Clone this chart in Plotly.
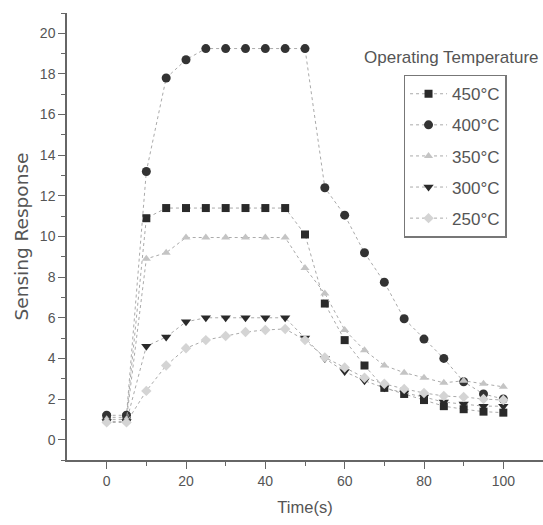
import plotly.graph_objects as go

time_s = [0, 5, 10, 15, 20, 25, 30, 35, 40, 45, 50, 55, 60, 65, 70, 75, 80, 85, 90, 95, 100]

resp_450 = [1.1, 1.1, 10.9, 11.4, 11.4, 11.4, 11.4, 11.4, 11.4, 11.4, 10.1, 6.7, 4.9, 3.65, 2.55, 2.25, 1.95, 1.65, 1.5, 1.38, 1.33]
resp_400 = [1.2, 1.2, 13.2, 17.8, 18.7, 19.25, 19.25, 19.25, 19.25, 19.25, 19.25, 12.4, 11.05, 9.2, 7.75, 5.95, 4.95, 4.0, 2.85, 2.25, 2.0]
resp_350 = [1.0, 1.0, 8.9, 9.2, 9.95, 9.95, 9.95, 9.95, 9.95, 9.95, 8.45, 7.2, 5.4, 4.4, 3.65, 3.3, 3.05, 2.8, 2.9, 2.75, 2.6]
resp_300 = [0.9, 0.9, 4.6, 5.05, 5.8, 6.0, 6.0, 6.0, 6.0, 6.0, 5.0, 4.0, 3.35, 2.9, 2.55, 2.3, 2.1, 1.85, 1.75, 1.65, 1.65]
resp_250 = [0.85, 0.85, 2.4, 3.65, 4.5, 4.9, 5.1, 5.3, 5.4, 5.45, 4.9, 4.05, 3.55, 3.05, 2.75, 2.5, 2.3, 2.15, 2.1, 2.0, 1.95]

labels = ["450°C", "400°C", "350°C", "300°C", "250°C"]
series = [resp_450, resp_400, resp_350, resp_300, resp_250]
symbols = ["square", "circle", "triangle-up", "triangle-down", "diamond"]
colors = ["#2a2a2a", "#333333", "#c4c4c4", "#2a2a2a", "#d4d4d4"]
sizes = [8, 9, 8, 9, 8]

FONT = "Liberation Sans, Arial, sans-serif"
TXT = "#555555"

fig = go.Figure()
for lab, ys, sym, col, sz in zip(labels, series, symbols, colors, sizes):
    fig.add_trace(go.Scatter(
        x=time_s, y=ys, name=lab, mode="lines+markers", legendgroup=lab,
        line=dict(color="#aaaaaa", width=1, dash="dot"),
        marker=dict(symbol=sym, color=col, size=sz, line=dict(width=0)),
    ))

fig.update_layout(
    width=543, height=525,
    margin=dict(l=67, r=0, t=13, b=65),
    plot_bgcolor="white", paper_bgcolor="white",
    font=dict(family=FONT, color=TXT, size=13),
    legend=dict(
        x=0.707, y=0.862, xanchor="left", yanchor="top",
        bordercolor="#777777", borderwidth=1.5, bgcolor="white",
        font=dict(family=FONT, size=17, color=TXT),
        tracegroupgap=6, itemwidth=37,
    ),
    annotations=[dict(
        text="Operating Temperature", x=0.995, y=0.875, xref="paper", yref="paper",
        xanchor="right", yanchor="bottom", showarrow=False,
        font=dict(family=FONT, size=17, color=TXT),
    )],
)

fig.update_xaxes(
    range=[-10, 110], tickmode="array", tickvals=[0, 20, 40, 60, 80, 100],
    ticks="outside", ticklen=7, tickcolor="#666666", tickwidth=1,
    minor=dict(tickvals=[10, 30, 50, 70, 90, 110], ticks="outside", ticklen=4, tickcolor="#666666"),
    showline=True, linecolor="#666666", linewidth=1.5, showgrid=False, zeroline=False,
    title=dict(text="Time(s)", font=dict(family=FONT, size=16.5, color=TXT), standoff=14),
    tickfont=dict(family=FONT, size=14, color=TXT),
)
fig.update_yaxes(
    range=[-1, 21], tickmode="array", tickvals=list(range(0, 21, 2)),
    ticks="outside", ticklen=7, tickcolor="#666666", tickwidth=1,
    minor=dict(tickvals=list(range(-1, 22, 2)), ticks="outside", ticklen=4, tickcolor="#666666"),
    showline=True, linecolor="#666666", linewidth=1.5, showgrid=False, zeroline=False,
    title=dict(text="Sensing Response", font=dict(family="DejaVu Sans, sans-serif", size=18.5, color=TXT), standoff=6),
    tickfont=dict(family=FONT, size=14, color=TXT),
    automargin=False,
)

fig.write_html("out.html", config={"displayModeBar": False},
               post_script="document.body.style.margin='0';")
